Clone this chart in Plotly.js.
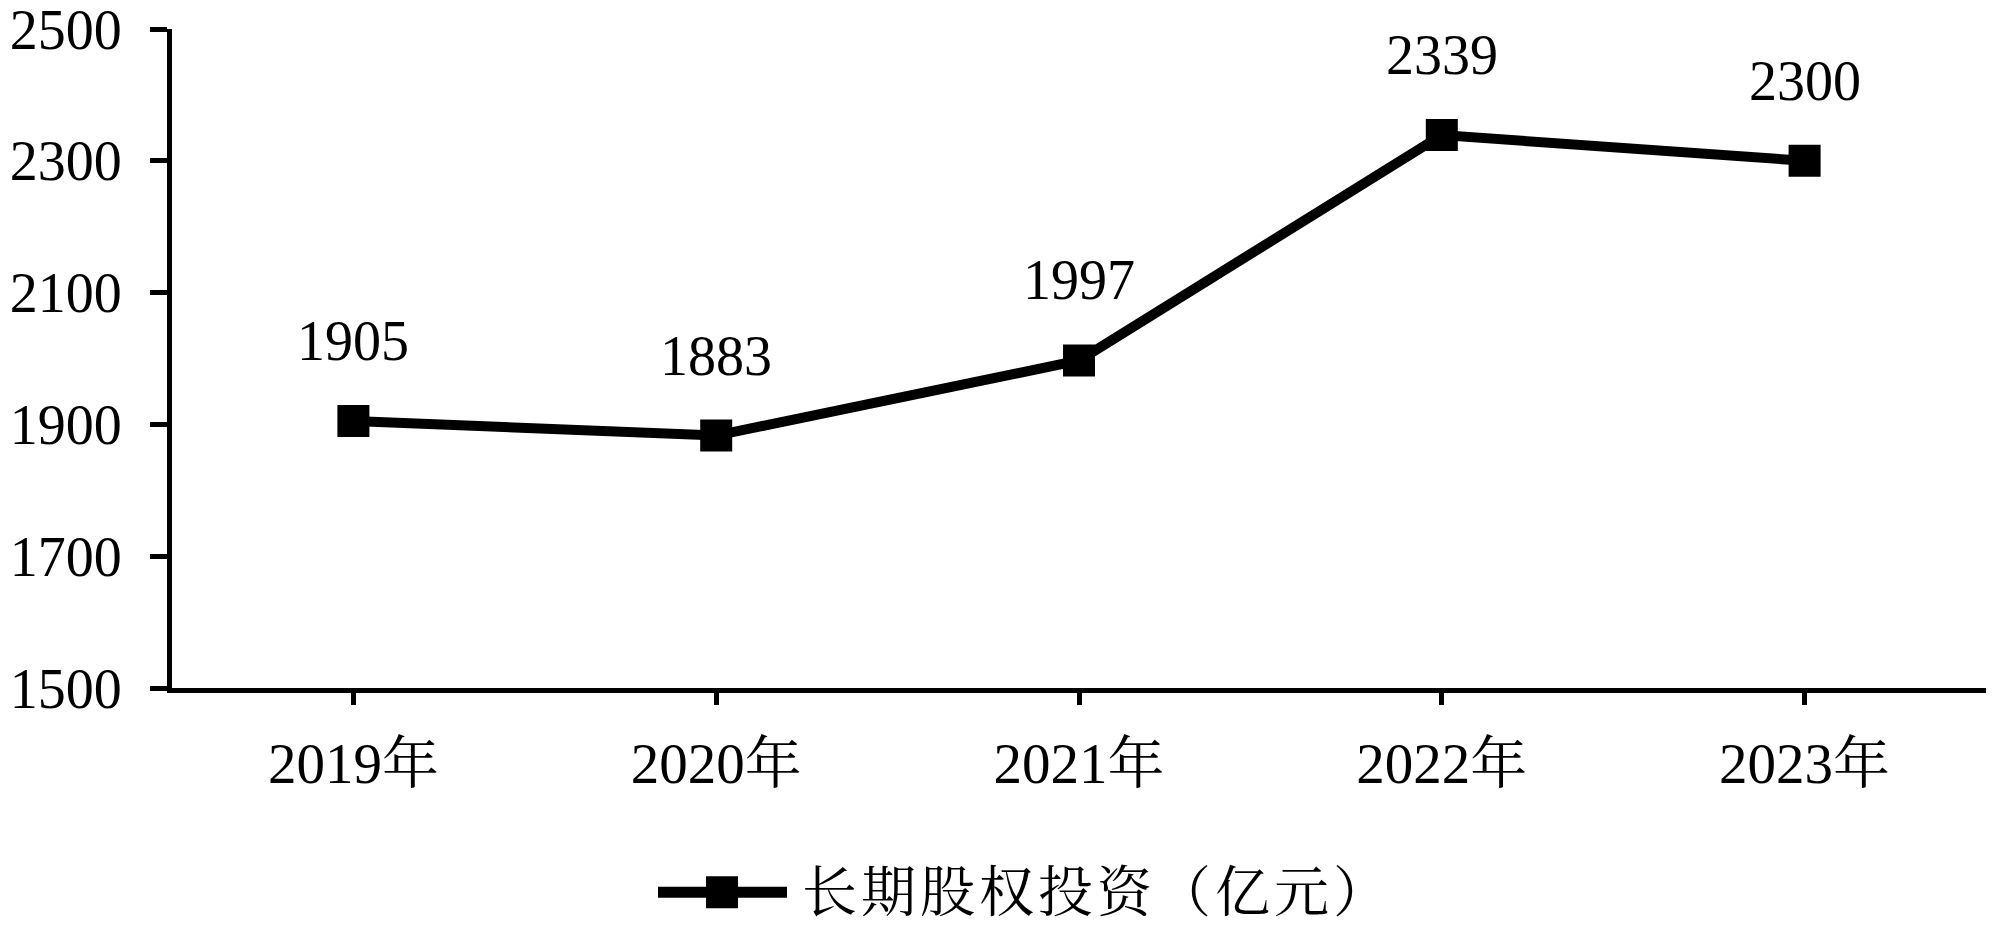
<!DOCTYPE html>
<html>
<head>
<meta charset="utf-8">
<script src="https://cdn.plot.ly/plotly-3.0.1.min.js"></script>
<style>
  html, body { margin: 0; padding: 0; background: #fff; }
  #chart { width: 2000px; height: 925px; }
</style>
</head>
<body>
<div id="chart"></div>
<script>
// 长期股权投资, 2019-2023
const years = ['2019年', '2020年', '2021年', '2022年', '2023年'];
const values = [1905, 1883, 1997, 2339, 2300];
const seriesName = '长期股权投资（亿元）';

const fontFamily = '"Liberation Serif", "Times New Roman", "Noto Serif CJK SC", "Noto Sans CJK SC", serif';
const plotLeft = 172;

const trace = {
  x: years,
  y: values,
  name: seriesName,
  type: 'scatter',
  mode: 'lines+markers',
  line: {color: '#000', width: 10},
  marker: {symbol: 'square', size: 32, color: '#000'},
  showlegend: false,
  hoverinfo: 'skip'
};

// value labels above each point
const labels = years.map((yr, i) => ({
  x: yr, y: values[i], xref: 'x', yref: 'y',
  text: String(values[i]),
  showarrow: false,
  yanchor: 'middle',
  yshift: 80,
  font: {family: fontFamily, size: 56, color: '#000'}
}));

// legend drawn by hand so the marker keeps its real size
const legendY = -0.31;   // paper units below the plot
const legendShapes = [
  {type: 'line', xref: 'paper', yref: 'paper', xsizemode: 'pixel', xanchor: 0,
   x0: 658 - plotLeft, x1: 787 - plotLeft, y0: legendY, y1: legendY,
   line: {color: '#000', width: 11}},
  {type: 'rect', xref: 'paper', yref: 'paper', xsizemode: 'pixel', ysizemode: 'pixel',
   xanchor: 0, yanchor: legendY,
   x0: 722 - plotLeft - 16, x1: 722 - plotLeft + 16, y0: -16, y1: 16,
   fillcolor: '#000', line: {width: 0}}
];
const legendText = {
  xref: 'paper', yref: 'paper', x: 0, y: legendY,
  xshift: 800 - plotLeft, xanchor: 'left', yanchor: 'middle',
  text: '<span style="letter-spacing:4px">' + seriesName + '</span>',
  showarrow: false,
  font: {family: fontFamily, size: 55, color: '#000'}
};

const layout = {
  width: 2000,
  height: 925,
  margin: {l: plotLeft, r: 14, t: 29, b: 237, pad: 0},
  paper_bgcolor: '#fff',
  plot_bgcolor: '#fff',
  font: {family: fontFamily, size: 56, color: '#000'},
  showlegend: false,
  xaxis: {
    type: 'category',
    range: [-0.5, 4.5],
    showline: true, linecolor: '#000', linewidth: 5,
    ticks: 'outside', ticklen: 12, tickwidth: 5, tickcolor: '#000',
    ticklabelstandoff: 10,
    showgrid: false, zeroline: false,
    tickfont: {family: fontFamily, size: 57, color: '#000'}
  },
  yaxis: {
    range: [1500, 2500],
    dtick: 200,
    tick0: 1500,
    showline: true, linecolor: '#000', linewidth: 5,
    ticks: 'outside', ticklen: 17, tickwidth: 5, tickcolor: '#000',
    ticklabelstandoff: 17,
    ticklabeloverflow: 'allow',
    showgrid: false, zeroline: false,
    tickfont: {family: fontFamily, size: 56, color: '#000'}
  },
  shapes: [{
    // closing tick at the right end of the category axis
    type: 'line', xref: 'x', yref: 'y',
    ysizemode: 'pixel', yanchor: 1500,
    x0: 4.5, x1: 4.5, y0: 0, y1: -12,
    line: {color: '#000', width: 5}
  }].concat(legendShapes),
  annotations: labels.concat([legendText])
};

Plotly.newPlot('chart', [trace], layout, {displayModeBar: false, staticPlot: true});
</script>
</body>
</html>
